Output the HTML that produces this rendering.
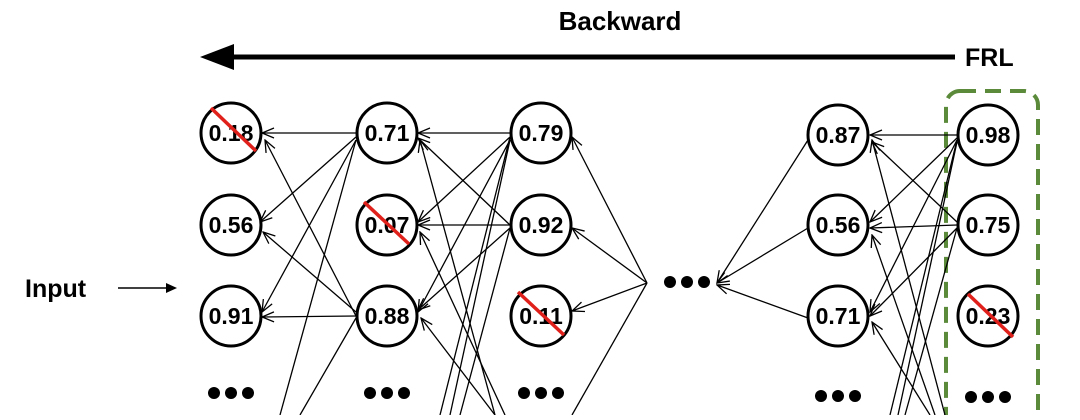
<!DOCTYPE html>
<html><head><style>
body{margin:0;background:#fff;width:1080px;height:415px;overflow:hidden}
svg text{font-family:"Liberation Sans",sans-serif;font-weight:bold}
</style></head><body>
<svg width="1080" height="415" viewBox="0 0 1080 415">
<defs>
<marker id="a" markerWidth="14" markerHeight="12" refX="13" refY="6" orient="auto" markerUnits="userSpaceOnUse">
<path d="M1,1 L13,6 L1,11" fill="none" stroke="#000" stroke-width="1.3"/>
</marker>
</defs>
<text x="620" y="30" font-size="26" text-anchor="middle">Backward</text>
<line x1="955" y1="57" x2="230" y2="57" stroke="#000" stroke-width="5"/>
<polygon points="200,57 234,44 234,70" fill="#000"/>
<text x="965" y="66" font-size="25">FRL</text>
<text x="25" y="297" font-size="25">Input</text>
<line x1="118" y1="288" x2="170" y2="288" stroke="#000" stroke-width="1.5"/>
<polygon points="177,288 166,283 166,293" fill="#000"/>
<rect x="946" y="91" width="92" height="340" rx="14" fill="none" stroke="#5a8a3a" stroke-width="4" stroke-dasharray="16,9"/>
<g stroke="#000" stroke-width="1.3" fill="none" marker-end="url(#a)">
<line x1="356" y1="133" x2="262" y2="133"/>
<line x1="356" y1="137" x2="260" y2="222"/>
<line x1="356" y1="140" x2="262" y2="312"/>
<line x1="356" y1="316" x2="265" y2="140"/>
<line x1="356" y1="312" x2="263" y2="232"/>
<line x1="356" y1="316" x2="262" y2="317"/>
<line x1="510" y1="133" x2="418" y2="133"/>
<line x1="510" y1="137" x2="418" y2="222"/>
<line x1="510" y1="140" x2="418" y2="312"/>
<line x1="510" y1="225" x2="418" y2="138"/>
<line x1="510" y1="225" x2="418" y2="225"/>
<line x1="510" y1="228" x2="418" y2="310"/>
<line x1="495" y1="415" x2="420" y2="140"/>
<line x1="505" y1="415" x2="420" y2="232"/>
<line x1="495" y1="415" x2="421" y2="318"/>
<line x1="647" y1="283" x2="572" y2="137"/>
<line x1="647" y1="283" x2="572" y2="228"/>
<line x1="647" y1="283" x2="572" y2="311"/>
<line x1="808" y1="140" x2="717" y2="283"/>
<line x1="808" y1="228" x2="717" y2="283"/>
<line x1="808" y1="318" x2="717" y2="285"/>
<line x1="957" y1="135" x2="870" y2="135"/>
<line x1="957" y1="138" x2="870" y2="222"/>
<line x1="957" y1="140" x2="870" y2="312"/>
<line x1="957" y1="225" x2="870" y2="228"/>
<line x1="957" y1="222" x2="872" y2="142"/>
<line x1="957" y1="228" x2="870" y2="316"/>
<line x1="945" y1="415" x2="872" y2="140"/>
<line x1="935" y1="415" x2="872" y2="235"/>
<line x1="930" y1="415" x2="872" y2="322"/>
</g>
<g stroke="#000" stroke-width="1.3">
<line x1="356" y1="140" x2="280" y2="415"/>
<line x1="356" y1="318" x2="300" y2="415"/>
<line x1="510" y1="137" x2="440" y2="415"/>
<line x1="510" y1="140" x2="450" y2="415"/>
<line x1="510" y1="228" x2="460" y2="415"/>
<line x1="647" y1="283" x2="572" y2="415"/>
<line x1="957" y1="140" x2="890" y2="415"/>
<line x1="957" y1="142" x2="898" y2="415"/>
<line x1="957" y1="228" x2="905" y2="415"/>
</g>
<g fill="#fff" stroke="#000" stroke-width="3">
<circle cx="231" cy="133" r="30"/><circle cx="231" cy="225" r="30"/><circle cx="231" cy="316" r="30"/>
<circle cx="387" cy="133" r="30"/><circle cx="387" cy="225" r="30"/><circle cx="387" cy="316" r="30"/>
<circle cx="541" cy="133" r="30"/><circle cx="541" cy="225" r="30"/><circle cx="541" cy="316" r="30"/>
<circle cx="838" cy="135" r="30"/><circle cx="838" cy="225" r="30"/><circle cx="838" cy="316" r="30"/>
<circle cx="988" cy="135" r="30"/><circle cx="988" cy="225" r="30"/><circle cx="988" cy="316" r="30"/>
</g>
<g font-size="23" text-anchor="middle">
<text x="231" y="141">0.18</text><text x="231" y="233">0.56</text><text x="231" y="324">0.91</text>
<text x="387" y="141">0.71</text><text x="387" y="233">0.07</text><text x="387" y="324">0.88</text>
<text x="541" y="141">0.79</text><text x="541" y="233">0.92</text><text x="541" y="324">0.11</text>
<text x="838" y="143">0.87</text><text x="838" y="233">0.56</text><text x="838" y="324">0.71</text>
<text x="988" y="143">0.98</text><text x="988" y="233">0.75</text><text x="988" y="324">0.23</text>
</g>
<g stroke="#e0201a" stroke-width="3.5">
<line x1="211" y1="108" x2="256" y2="151"/>
<line x1="364" y1="202" x2="409" y2="244"/>
<line x1="518" y1="292" x2="564" y2="335"/>
<line x1="968" y1="294" x2="1013" y2="337"/>
</g>
<g fill="#000">
<circle cx="214" cy="393" r="6"/><circle cx="231" cy="393" r="6"/><circle cx="248" cy="393" r="6"/>
<circle cx="370" cy="393" r="6"/><circle cx="387" cy="393" r="6"/><circle cx="404" cy="393" r="6"/>
<circle cx="524" cy="393" r="6"/><circle cx="541" cy="393" r="6"/><circle cx="558" cy="393" r="6"/>
<circle cx="821" cy="396" r="6"/><circle cx="838" cy="396" r="6"/><circle cx="855" cy="396" r="6"/>
<circle cx="971" cy="397" r="6"/><circle cx="988" cy="397" r="6"/><circle cx="1005" cy="397" r="6"/>
<circle cx="670" cy="282" r="6"/><circle cx="687" cy="282" r="6"/><circle cx="704" cy="282" r="6"/>
</g>
</svg>
</body></html>
